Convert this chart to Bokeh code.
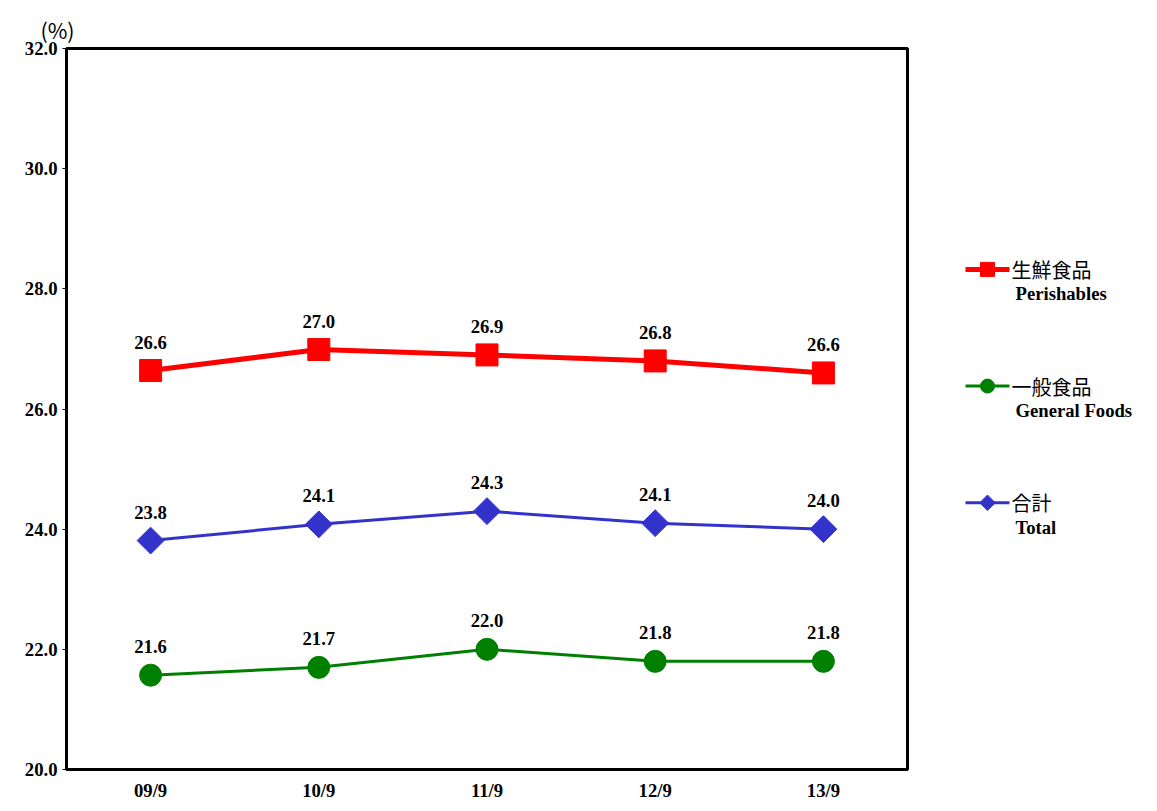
from bokeh.plotting import figure
from bokeh.layouts import row
from bokeh.models import SingleIntervalTicker, NumeralTickFormatter, Range1d
from bokeh.core.properties import value
from bokeh.embed import file_html
from bokeh.resources import INLINE
import math

months = ["09/9", "10/9", "11/9", "12/9", "13/9"]
perishables = [26.64, 26.99, 26.9, 26.8, 26.6]
perishables_lbl = ["26.6", "27.0", "26.9", "26.8", "26.6"]
total = [23.81, 24.08, 24.3, 24.1, 24.0]
total_lbl = ["23.8", "24.1", "24.3", "24.1", "24.0"]
general = [21.57, 21.7, 22.0, 21.8, 21.8]
general_lbl = ["21.6", "21.7", "22.0", "21.8", "21.8"]

FONT = value("Liberation Serif")
RED, GREEN, BLUE = "#ff0000", "#008000", "#3333cc"

p = figure(x_range=months, y_range=Range1d(20, 32), width=917, height=803,
           min_border_left=66, min_border_top=48, min_border_bottom=0, min_border_right=10,
           output_backend="svg", toolbar_location=None)
p.title.text = "(%)"
p.title.text_font = "Noto Sans CJK JP"
p.title.text_font_size = "16pt"
p.title.text_font_style = "normal"
p.title.text_color = "black"
p.title.offset = -26
p.title.standoff = 8
p.xgrid.visible = False
p.ygrid.visible = False
p.outline_line_color = "black"
p.outline_line_width = 3
p.yaxis.ticker = SingleIntervalTicker(interval=2, num_minor_ticks=0)
p.yaxis.formatter = NumeralTickFormatter(format="0.0")
for ax in (p.xaxis, p.yaxis):
    ax.major_label_text_font = "Liberation Serif"
    ax.major_label_text_font_style = "bold"
    ax.major_label_text_font_size = "14pt"
    ax.major_label_text_color = "black"
    ax.axis_line_color = None
    ax.major_tick_line_color = "black"
    ax.major_tick_in = 0
    ax.major_tick_out = 4
    ax.minor_tick_line_color = None
p.xaxis.major_tick_line_color = None
p.xaxis.major_tick_out = 0
p.xaxis.major_label_standoff = 10

p.line(months, perishables, color=RED, line_width=5)
p.scatter(months, perishables, marker="square", size=22, color=RED)
p.line(months, total, color=BLUE, line_width=3)
p.scatter(months, total, marker="square", size=19, angle=math.pi / 4, color=BLUE)
p.line(months, general, color=GREEN, line_width=3)
p.scatter(months, general, marker="circle", size=22, color=GREEN)

for vals, lbls in ((perishables, perishables_lbl), (total, total_lbl), (general, general_lbl)):
    p.text(months, vals, text=lbls, text_font=FONT, text_font_style="bold",
           text_font_size="14pt", text_align="center", text_baseline="bottom", y_offset=-22)

lg = figure(x_range=Range1d(0, 240), y_range=Range1d(803, 0), width=240, height=803,
            output_backend="svg", toolbar_location=None, min_border=0)
lg.axis.visible = False
lg.grid.visible = False
lg.outline_line_color = None
items = [("生鮮食品", "Perishables", RED, "square", 14, 5, 0),
         ("一般食品", "General Foods", GREEN, "circle", 14, 3, 0),
         ("合計", "Total", BLUE, "square", 11, 3, math.pi / 4)]
for i, (jp, en, c, m, s, w, a) in enumerate(items):
    y = 246 + 130 * i
    lg.line([48, 92], [y, y], color=c, line_width=w)
    lg.scatter([70], [y], marker=m, size=s, angle=a, color=c)
    lg.text([94], [y], text=[jp], text_font=value("Noto Sans CJK JP"), text_font_size="15pt",
            text_baseline="middle", text_color="black")
    lg.text([98], [y + 27], text=[en], text_font=FONT, text_font_style="bold",
            text_font_size="14pt", text_baseline="middle", text_color="black")

open("out.html", "w").write(file_html(row(p, lg, spacing=0), INLINE))
